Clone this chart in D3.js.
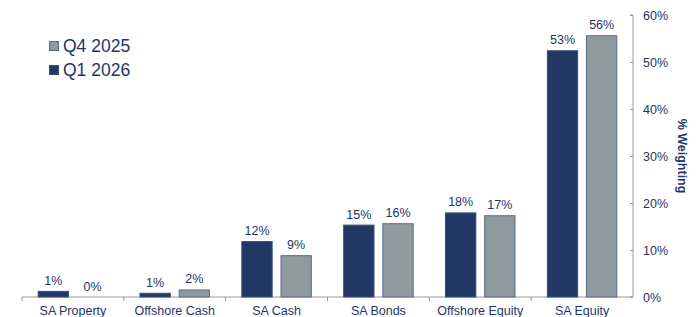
<!DOCTYPE html>
<html lang="en">
<head>
<meta charset="UTF-8">
<title>Asset allocation weighting</title>
<script src="https://d3js.org/d3.v7.min.js"></script>
<style>
  body { margin: 0; background: #fff; font-family: "Liberation Sans", Arial, sans-serif; }
  svg { display: block; }
  .axis path, .axis line { stroke: #999; }
  .axis text { fill: #1f3468; font-size: 12.5px; font-family: "Liberation Sans", Arial, sans-serif; }
  .val { fill: #1f3468; font-size: 12.5px; }
</style>
</head>
<body>
<svg width="698" height="317"></svg>
<script>
const categories = ["SA Property", "Offshore Cash", "SA Cash", "SA Bonds", "Offshore Equity", "SA Equity"];
const seriesNames = ["Q1 2026", "Q4 2025"];
const q1_2026 = [1.3, 0.9, 11.9, 15.4, 18.0, 52.5];
const q4_2025 = [0, 1.6, 8.9, 15.7, 17.4, 55.7];
const q1Labels = ["1%", "1%", "12%", "15%", "18%", "53%"];
const q4Labels = ["0%", "2%", "9%", "16%", "17%", "56%"];
const yTicks = [0, 10, 20, 30, 40, 50, 60];

const colors = { "Q1 2026": "#213864", "Q4 2025": "#8f9a9e" };
const strokes = { "Q1 2026": "#3a4f78", "Q4 2025": "#5b6b8a" };

const svg = d3.select("svg");
const mLeft = 22, mRight = 633, mTop = 15, mBottom = 297;

const x = d3.scaleBand().domain(categories).range([mLeft, mRight]).paddingInner(0).paddingOuter(0);
const xs = d3.scaleBand().domain(seriesNames).range([0, x.bandwidth()]).paddingInner(0.2).paddingOuter(0.4);
const y = d3.scaleLinear().domain([0, 60]).range([mBottom, mTop]);

// right y axis
const yAxis = svg.append("g").attr("class", "axis")
  .attr("transform", `translate(${mRight},0)`)
  .call(d3.axisRight(y).tickValues(yTicks).tickFormat(d => d + "%").tickSize(0).tickPadding(10));
yAxis.selectAll(".tick line").attr("x1", -3).attr("x2", 0);
yAxis.select(".domain").attr("d", `M-3,${mTop}H0V${mBottom}H-3`);

// x axis
const xAxis = svg.append("g").attr("class", "axis")
  .attr("transform", `translate(0,${mBottom})`)
  .call(d3.axisBottom(x).tickSize(0).tickPadding(9));
xAxis.select(".domain").attr("d", `M${mLeft},0H${mRight}`);
xAxis.selectAll(".tick line").remove();
// boundary ticks between categories
svg.append("g").selectAll("line")
  .data(d3.range(categories.length))
  .join("line")
  .attr("x1", i => x(categories[i])).attr("x2", i => x(categories[i]))
  .attr("y1", mBottom).attr("y2", mBottom + 4)
  .attr("stroke", "#999");

const rows = categories.map((c, i) => ({
  cat: c,
  vals: [
    { s: "Q1 2026", v: q1_2026[i], label: q1Labels[i] },
    { s: "Q4 2025", v: q4_2025[i], label: q4Labels[i] }
  ]
}));

const groups = svg.append("g").selectAll("g")
  .data(rows).join("g")
  .attr("transform", d => `translate(${x(d.cat)},0)`);

groups.selectAll("rect")
  .data(d => d.vals.filter(e => e.v > 0)).join("rect")
  .attr("x", d => xs(d.s) + 0.5)
  .attr("width", xs.bandwidth() - 1)
  .attr("y", d => y(d.v) + 0.5)
  .attr("height", d => Math.max(0, y(0) - y(d.v) - 0.5))
  .attr("fill", d => colors[d.s])
  .attr("stroke", d => strokes[d.s])
  .attr("stroke-width", 1);

groups.selectAll("text")
  .data(d => d.vals).join("text")
  .attr("class", "val")
  .attr("x", d => xs(d.s) + xs.bandwidth() / 2)
  .attr("y", d => y(d.v) - 6)
  .attr("text-anchor", "middle")
  .text(d => d.label);

// axis title
svg.append("text")
  .attr("transform", `translate(678,${(mTop + mBottom) / 2}) rotate(90)`)
  .attr("text-anchor", "middle")
  .attr("fill", "#1f3468")
  .attr("font-weight", "bold")
  .attr("font-size", 12.5)
  .text("% Weighting");

// legend
const legend = svg.append("g").selectAll("g")
  .data(["Q4 2025", "Q1 2026"]).join("g")
  .attr("transform", (d, i) => `translate(49,${41 + i * 24})`);
legend.append("rect")
  .attr("x", 0.5).attr("y", 0.5).attr("width", 9).attr("height", 9)
  .attr("fill", d => colors[d]).attr("stroke", d => strokes[d]);
legend.append("text")
  .attr("x", 14).attr("y", 11)
  .attr("fill", "#1f3468")
  .attr("font-size", 17.5)
  .text(d => d);
</script>
</body>
</html>
